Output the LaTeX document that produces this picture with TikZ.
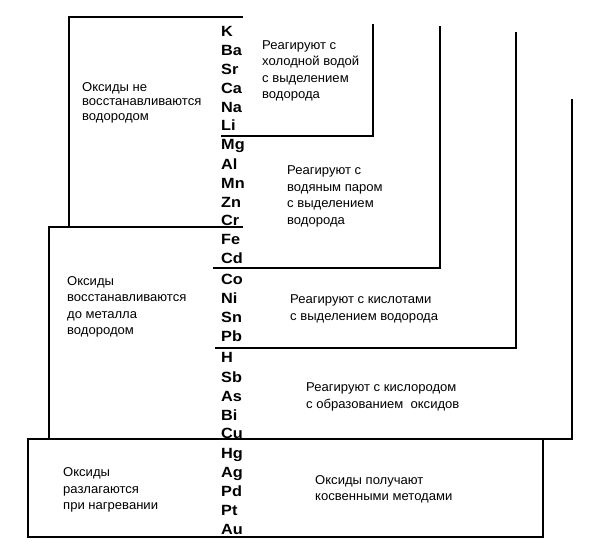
\documentclass[tikz,border=0pt]{standalone}
\usepackage{fontspec}
\setmainfont{Liberation Sans}
\newfontfamily\elemfont{Liberation Sans}[FakeStretch=1.1]
\newfontfamily\notefont{Liberation Sans}[FakeStretch=1.02]
\usepackage{tikz}
\tikzset{
  elem/.style = {anchor=base west, inner sep=0pt,
    font=\elemfont\fontsize{14.8}{14.8}\selectfont\bfseries},% symbole du metal
  note/.style = {anchor=west, inner sep=0pt, align=left,
    font=\notefont\fontsize{12.8}{16.5}\selectfont},% texte
  notetight/.style = {note, font=\notefont\fontsize{12.8}{14.5}\selectfont},
  frame/.style = {line width=1.2pt}
}

\begin{document}
\begin{tikzpicture}[x=1pt,y=-1pt]
\useasboundingbox (0,0) rectangle (600,550);
% frames
\draw[frame] (243,17) -- (69,17) -- (69,227);
\draw[frame] (373,24) -- (373,136) -- (221,136);
\draw[frame] (440,26) -- (440,268) -- (213,268);
\draw[frame] (243,227) -- (49,227) -- (49,439);
\draw[frame] (516,32) -- (516,348) -- (215,348);
\draw[frame] (572,99) -- (572,439) -- (28,439);
\draw[frame] (28,439) rectangle (543,537);
% metals
\foreach \el/\y in {K/31,Ba/50,Sr/69,Ca/88,Na/107,Li/125,
    Mg/144,Al/164,Mn/183,Zn/202,Cr/220,Fe/239,Cd/258,
    Co/279,Ni/298,Sn/317,Pb/336,
    H/357,Sb/377,As/396,Bi/415,Cu/433,
    Hg/453,Ag/472,Pd/491,Pt/510,Au/529}
  \node[elem] (\el) at (221,\y+5) {\el};
% texts
\node[notetight] (noredH) at (82,102.5) {Оксиды не\\восстанавливаются\\водородом};
\node[note] (coldwater) at (262,71) {Реагируют с\\холодной водой\\с выделением\\водорода};
\node[note] (steam) at (287,196.5) {Реагируют с\\водяным паром\\с выделением\\водорода};
\node[note] (redH) at (67,307) {Оксиды\\восстанавливаются\\до металла\\водородом};
\node[note] (acids) at (290,309) {Реагируют с кислотами\\с выделением водорода};
\node[note] (oxygen) at (306,397) {Реагируют с кислородом\\с образованием\ \ оксидов};
\node[note] (heat) at (63,490) {Оксиды\\разлагаются\\при нагревании};
\node[note] (indirect) at (315,489.5) {Оксиды получают\\косвенными методами};
\end{tikzpicture}
\end{document}
